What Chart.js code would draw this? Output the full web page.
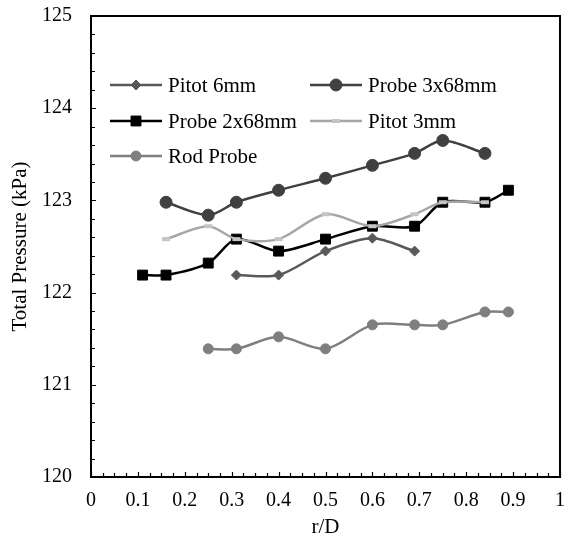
<!DOCTYPE html>
<html>
<head>
<meta charset="utf-8">
<script src="https://cdn.jsdelivr.net/npm/chart.js@4.4.1/dist/chart.umd.min.js"></script>
<style>
    html, body { margin: 0; padding: 0; background: #fff; }
    #wrap { width: 568px; height: 544px; }
</style>
</head>
<body>
<div id="wrap"><canvas id="pressure_chart"></canvas></div>
<script>
// r/D positions for each series
var rdPitot6 = [0.31, 0.40, 0.50, 0.60, 0.69];
var rdProbe3 = [0.16, 0.25, 0.31, 0.40, 0.50, 0.60, 0.69, 0.75, 0.84];
var rdProbe2 = [0.11, 0.16, 0.25, 0.31, 0.40, 0.50, 0.60, 0.69, 0.75, 0.84, 0.89];
var rdPitot3 = [0.16, 0.25, 0.31, 0.40, 0.50, 0.60, 0.69, 0.75, 0.84];
var rdRod = [0.25, 0.31, 0.40, 0.50, 0.60, 0.69, 0.75, 0.84, 0.89];

// total pressure, kPa
var pitot6 = [122.19, 122.19, 122.45, 122.59, 122.45];
var probe3 = [122.98, 122.84, 122.98, 123.11, 123.24, 123.38, 123.51, 123.65, 123.51];
var probe2 = [122.19, 122.19, 122.32, 122.58, 122.45, 122.58, 122.72, 122.72, 122.98, 122.98, 123.11];
var pitot3 = [122.58, 122.72, 122.58, 122.58, 122.85, 122.72, 122.85, 122.98, 122.98];
var rod = [121.39, 121.39, 121.52, 121.39, 121.65, 121.65, 121.65, 121.79, 121.79];

var xTicks = [0, 0.1, 0.2, 0.3, 0.4, 0.5, 0.6, 0.7, 0.8, 0.9, 1];
var yTicks = [120, 121, 122, 123, 124, 125];

var FONT = "'Liberation Serif', 'Times New Roman', serif";

toPoints = (xs, ys) => xs.map(function (x, i) { return { x: x, y: ys[i] }; });

makeSet = (label, xs, ys, color, style, radius, order, extra) => {
    var ds = {
        label: label,
        data: toPoints(xs, ys),
        borderColor: color,
        backgroundColor: color,
        pointBackgroundColor: color,
        pointBorderColor: color,
        pointStyle: style,
        pointRadius: radius,
        pointBorderWidth: 1,
        borderWidth: 2.5,
        tension: 0.3,
        order: order
    };
    return Object.assign(ds, extra || {});
};

// inward ticks, frame and the in-plot legend
var framePlugin = {
    id: 'frame',
    afterDatasetsDraw: function (chart) {
        var ctx = chart.ctx;
        var a = chart.chartArea;
        var xs = chart.scales.x;
        var ys = chart.scales.y;
        ctx.save();
        ctx.strokeStyle = '#000';
        ctx.lineWidth = 1.2;
        ctx.beginPath();
        for (var i = 0; i <= 40; i++) {
            var px = Math.round(xs.getPixelForValue(i * 0.025)) + 0.5;
            var len = (i % 4 === 0) ? 5 : 4;
            ctx.moveTo(px, a.bottom);
            ctx.lineTo(px, a.bottom - len);
        }
        for (var j = 0; j <= 25; j++) {
            var py = Math.round(ys.getPixelForValue(120 + j * 0.2)) + 0.5;
            var l2 = (j % 5 === 0) ? 5 : 4;
            ctx.moveTo(a.left, py);
            ctx.lineTo(a.left + l2, py);
        }
        ctx.stroke();
        ctx.lineWidth = 2;
        ctx.strokeRect(a.left, a.top, a.right - a.left, a.bottom - a.top);

        // legend
        var slots = [[110, 85], [310, 85], [110, 121], [310, 121], [110, 156]];
        ctx.font = '21px ' + FONT;
        ctx.textBaseline = 'middle';
        ctx.textAlign = 'left';
        chart.data.datasets.forEach(function (ds, k) {
            var s = slots[k];
            ctx.strokeStyle = ds.borderColor;
            ctx.lineWidth = ds.borderWidth;
            ctx.beginPath();
            ctx.moveTo(s[0], s[1]);
            ctx.lineTo(s[0] + 52, s[1]);
            ctx.stroke();
            ctx.fillStyle = ds.pointBackgroundColor;
            ctx.strokeStyle = ds.pointBorderColor;
            ctx.lineWidth = ds.pointBorderWidth;
            Chart.helpers.drawPoint(ctx, {
                pointStyle: ds.pointStyle,
                radius: ds.pointRadius,
                borderWidth: ds.pointBorderWidth,
                rotation: 0
            }, s[0] + 26, s[1]);
            ctx.fillStyle = '#000';
            ctx.fillText(ds.label, s[0] + 58, s[1] + 1);
        });
        ctx.restore();
    }
};

$chart = () => {
    var ctx = document.getElementById('pressure_chart');

    var data = {
        datasets: [
            makeSet('Pitot 6mm', rdPitot6, pitot6, '#595959', 'rectRot', 5, 5),
            makeSet('Probe 3x68mm', rdProbe3, probe3, '#404040', 'circle', 6, 4),
            makeSet('Probe 2x68mm', rdProbe2, probe2, '#000000', 'rect', 7, 3),
            makeSet('Pitot 3mm', rdPitot3, pitot3, '#A6A6A6', 'line', 4, 2,
                { pointBorderColor: '#C4C4C4', pointBorderWidth: 4 }),
            makeSet('Rod Probe', rdRod, rod, '#7F7F7F', 'circle', 5, 1)
        ]
    };

    new Chart(ctx, {
        type: 'line',
        data: data,
        plugins: [framePlugin],
        options: {
            responsive: true,
            maintainAspectRatio: false,
            animation: false,
            layout: { padding: { top: 16, right: 4, left: 0, bottom: 0 } },
            plugins: {
                legend: { display: false },
                tooltip: { enabled: false }
            },
            scales: {
                x: {
                    type: 'linear',
                    min: 0,
                    max: 1,
                    afterFit: function (scale) {
                        scale.height = 67;
                        scale.paddingLeft = 0;
                        scale.paddingRight = 0;
                    },
                    afterBuildTicks: function (scale) {
                        scale.ticks = xTicks.map(function (v) { return { value: v }; });
                    },
                    grid: { display: false, drawTicks: false },
                    border: { display: false },
                    ticks: {
                        padding: 12,
                        color: '#000',
                        maxRotation: 0,
                        font: { family: FONT, size: 20 },
                        callback: function (v) { return String(Math.round(v * 10) / 10); }
                    },
                    title: {
                        display: true,
                        text: 'r/D',
                        color: '#000',
                        font: { family: FONT, size: 21 },
                        padding: { top: 0, bottom: 4 }
                    }
                },
                y: {
                    min: 120,
                    max: 125,
                    afterFit: function (scale) {
                        scale.width = 91;
                        scale.paddingTop = 0;
                        scale.paddingBottom = 0;
                    },
                    afterBuildTicks: function (scale) {
                        scale.ticks = yTicks.map(function (v) { return { value: v }; });
                    },
                    grid: { display: false, drawTicks: false },
                    border: { display: false },
                    ticks: {
                        padding: 19,
                        color: '#000',
                        font: { family: FONT, size: 20 }
                    },
                    title: {
                        display: true,
                        text: 'Total Pressure (kPa)',
                        color: '#000',
                        font: { family: FONT, size: 21 },
                        padding: { top: 8, bottom: 0 }
                    }
                }
            }
        }
    });
};

$chart();
</script>
</body>
</html>
